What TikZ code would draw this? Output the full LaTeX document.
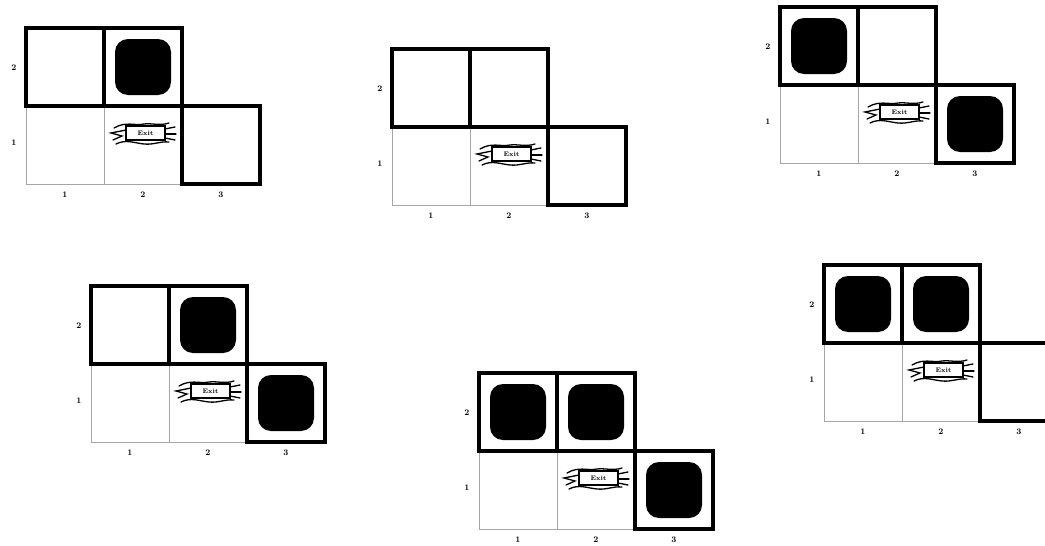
\documentclass[tikz,border=0pt]{standalone}
\usepackage{tikz}
\usetikzlibrary{calc, positioning}
\tikzset{
  thin cell/.style={draw=black!35, line width=1pt},
  thick cell/.style={draw=black, line width=3.2pt, line cap=rect},
  agent/.style={fill=black, rounded corners=13pt},
  axis label/.style={font=\bfseries\fontsize{8.5}{8.5}\selectfont, inner sep=0pt},
  ribbon/.style={draw=black, line width=1.3pt, line cap=round},
}
% one grid world: #1 = top left corner, #2 = cells holding an agent
\newcommand{\gridworld}[2]{
  \begin{scope}[shift={(#1)}]
    % thin lower row
    \draw[thin cell] (0,78) rectangle (78,156);
    \draw[thin cell] (78,78) rectangle (156,156);
    % agents
    \foreach \cx/\cy in {#2}
      \fill[agent] (\cx+11,\cy+11) rectangle ++(56,56);
    % thick outlines
    \draw[thick cell] (0,0) rectangle (78,78);
    \draw[thick cell] (78,0) rectangle (156,78);
    \draw[thick cell] (156,78) rectangle (234,156);
    % ribbon
    \draw[ribbon, fill=white] (100,98) rectangle (139,112);
    \draw[ribbon] (88,100) .. controls (100,93) and (108,98) .. (118,96) .. controls (126,95) and (134,98) .. (143,95);
    \draw[ribbon] (90,116) .. controls (100,111) and (108,115) .. (118,116) .. controls (128,117) and (134,113) .. (143,114);
    \draw[ribbon] (100,102) -- (85,105) -- (96,108) -- (87,112);
    \draw[ribbon] (139,101) -- (149,99);
    \draw[ribbon] (139,106) -- (150,106);
    \draw[ribbon] (139,110) -- (149,112);
    \node[font=\fontsize{6.5}{6.5}\selectfont\bfseries, inner sep=0pt] at (119.5,105) {Exit};
    % axis labels
    \foreach \n/\lx in {1/39,2/117,3/195}
      \node[axis label] at (\lx,167) {\n};
    \foreach \n/\ly in {1/115,2/40}
      \node[axis label] at (-12,\ly) {\n};
  \end{scope}
}
\begin{document}
\begin{tikzpicture}[x=1pt,y=-1pt]
  \path[use as bounding box] (0,0) rectangle (1045,546);
  \begin{scope}
    \clip (0,0) rectangle (1045,546);
    \gridworld{26,28}{78/0}
    \gridworld{392,49}{}
    \gridworld{780,7}{0/0,156/78}
    \gridworld{91,286}{78/0,156/78}
    \gridworld{479,373}{0/0,78/0,156/78}
    \gridworld{824,265}{0/0,78/0}
  \end{scope}
\end{tikzpicture}
\end{document}
